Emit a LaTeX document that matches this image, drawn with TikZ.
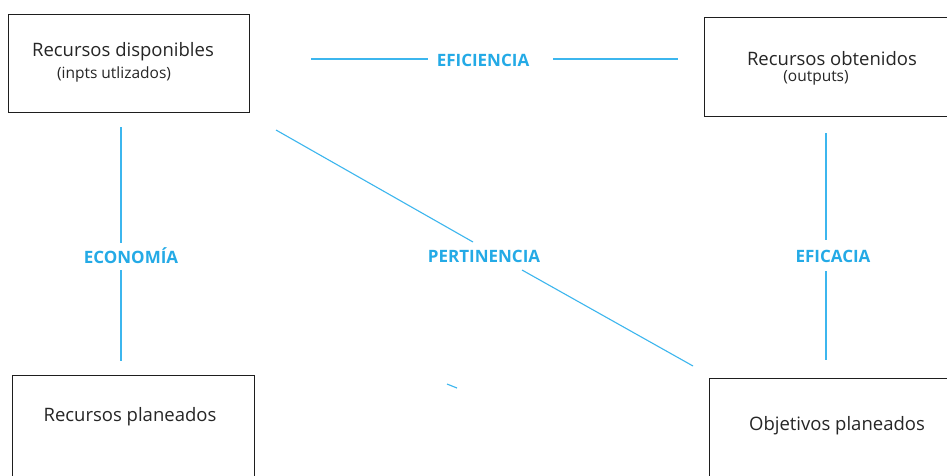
\documentclass[tikz,border=0pt]{standalone}
\usepackage{fontspec}
\setmainfont{Open Sans}
\definecolor{linkblue}{RGB}{60,182,238}
\definecolor{labelblue}{RGB}{36,170,230}
\definecolor{boxline}{RGB}{30,30,30}
\begin{document}
\begin{tikzpicture}[x=1pt,y=-1pt,
  box/.style={draw=boxline,line width=1.4pt,anchor=north west,inner sep=0pt},
  main/.style={font=\fontsize{18.5}{21}\selectfont,text=black!85,inner sep=0pt},
  sub/.style={font=\fontsize{15.5}{17}\selectfont,text=black!85,inner sep=0pt},
  rel/.style={font=\fontsize{17}{19}\selectfont\bfseries,text=labelblue,inner sep=0pt},
  link/.style={draw=linkblue,line width=1.1pt}]
\useasboundingbox (0,0) rectangle (947,475);
\clip (0,0) rectangle (947,475);
\fill[white] (0,0) rectangle (947,475);

% boxes
\node[box,minimum width=241pt,minimum height=98pt] (disp) at (8,14) {};
\node[box,minimum width=250pt,minimum height=99pt] (obt) at (704,17) {};
\node[box,minimum width=242pt,minimum height=120pt] (plan) at (12,375) {};
\node[box,minimum width=260pt,minimum height=120pt] (obj) at (709,378) {};

% box texts
\node[main] (t1) at (123,52) {Recursos disponibles};
\node[sub] (t1b) at (114,74) {(inpts utlizados)};
\node[main] (t2) at (832,59) {Recursos obtenidos};
\node[sub] (t2b) at (816,78) {(outputs)};
\node[main] (t3) at (130,417) {Recursos planeados};
\node[main] (t4) at (837,426) {Objetivos planeados};

% relation labels
\node[rel] (efi) at (483,60.5) {EFICIENCIA};
\node[rel] (eco) at (131,256) {ECONOMÍA};
\node[rel] (per) at (484,256) {PERTINENCIA};
\node[rel] (efc) at (833,256) {EFICACIA};

% segment end points
\coordinate (a1) at (311,59);  \coordinate (a2) at (428,59);
\coordinate (a3) at (553,59);  \coordinate (a4) at (678,59);
\coordinate (b1) at (121,127); \coordinate (b2) at (121,243);
\coordinate (b3) at (121,270); \coordinate (b4) at (121,361);
\coordinate (c1) at (826,133); \coordinate (c2) at (826,240);
\coordinate (c3) at (826,271); \coordinate (c4) at (826,360);
\coordinate (d1) at (276,130); \coordinate (d2) at (473,242);
\coordinate (d3) at (522,270); \coordinate (d4) at (693,366);
\coordinate (e1) at (447,384); \coordinate (e2) at (457,388);

% connectors
\draw[link] (a1) -- (a2);
\draw[link] (a3) -- (a4);
\draw[link] (b1) -- (b2);
\draw[link] (b3) -- (b4);
\draw[link] (c1) -- (c2);
\draw[link] (c3) -- (c4);
\draw[link] (d1) -- (d2);
\draw[link] (d3) -- (d4);
\draw[link] (e1) -- (e2);
\end{tikzpicture}
\end{document}
